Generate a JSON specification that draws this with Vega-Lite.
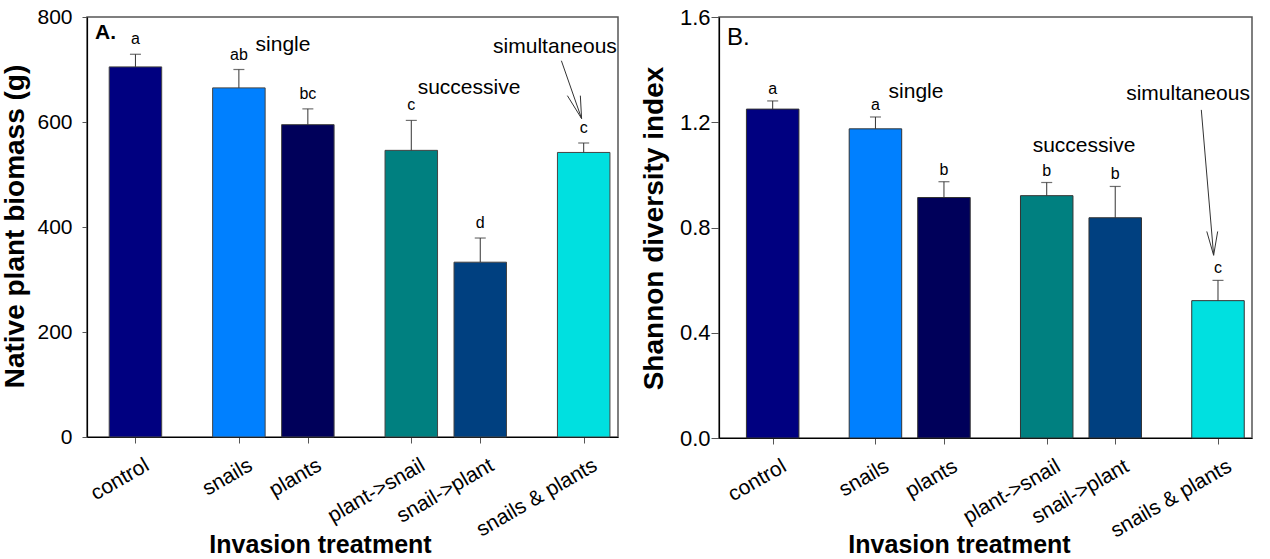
{
  "$schema": "https://vega.github.io/schema/vega-lite/v6.json",
  "background": "white",
  "padding": {"left": 0, "top": 5, "right": 0, "bottom": 0},
  "spacing": 101,
  "bounds": "flush",
  "config": {
    "font": "Liberation Sans",
    "view": {"stroke": "#555", "strokeWidth": 1.5},
    "axis": {"grid": false, "domainColor": "black", "domainWidth": 1.2, "tickColor": "#555", "labelColor": "black", "titleColor": "black", "labelFont": "Liberation Sans", "titleFont": "Liberation Sans", "labelOverlap": false}
  },
  "hconcat": [
    {
      "width": 531,
      "height": 420,
      "data": {"values": [
        {"treatment": "control", "mean": 705, "upper": 729, "letter": "a"},
        {"treatment": "snails", "mean": 665, "upper": 700, "letter": "ab"},
        {"treatment": "plants", "mean": 595, "upper": 625, "letter": "bc"},
        {"treatment": "plant->snail", "mean": 546, "upper": 603, "letter": "c"},
        {"treatment": "snail->plant", "mean": 333, "upper": 379, "letter": "d"},
        {"treatment": "snails & plants", "mean": 542, "upper": 560, "letter": "c"}
      ]},
      "resolve": {"scale": {"x": "independent"}},
      "layer": [
        {
          "encoding": {
            "x": {"field": "treatment", "type": "nominal",
              "scale": {"type": "point", "padding": 0.9, "align": 0.45, "domain": ["_m2","_m1","control","_1","_2","_3","_4","_5","snails","_7","_8","_9","plants","_11","_12","_13","_14","_15","plant->snail","_17","_18","_19","snail->plant","_21","_22","_23","_24","_25","snails & plants","_z"]},
              "axis": {"title": "Invasion treatment", "values": ["control","snails","plants","plant->snail","snail->plant","snails & plants"], "labelAngle": -30, "labelAlign": "right", "labelBaseline": "top", "labelFontSize": 21, "labelPadding": 11, "labelOffset": 6, "tickSize": 6, "titleFontSize": 25, "titleFontWeight": "bold", "titleX": 233, "titleY": 115, "titleBaseline": "alphabetic", "titleAlign": "center"}}
          },
          "layer": [
            {
              "mark": {"type": "bar", "size": 52.5, "stroke": "#444", "strokeWidth": 1},
              "encoding": {
                "y": {"field": "mean", "type": "quantitative", "scale": {"domain": [0, 800], "nice": false},
                  "axis": {"title": "Native plant biomass (g)", "values": [0, 200, 400, 600, 800], "labelFontSize": 21, "tickSize": 5, "labelPadding": 10, "titleFontSize": 28, "titleFontWeight": "bold", "titleX": -64, "titleY": 209, "titleBaseline": "alphabetic", "titleAlign": "center"}},
                "color": {"field": "treatment", "type": "nominal", "legend": null,
                  "scale": {"domain": ["control","snails","plants","plant->snail","snail->plant","snails & plants"], "range": ["#000080","#0080FF","#00005A","#008080","#004080","#00E0E0"]}}
              }
            },
            {
              "mark": {"type": "rule", "color": "#333", "strokeWidth": 1},
              "encoding": {"y": {"field": "mean", "type": "quantitative"}, "y2": {"field": "upper"}}
            },
            {
              "mark": {"type": "tick", "orient": "horizontal", "size": 11, "thickness": 1.2, "color": "#333"},
              "encoding": {"y": {"field": "upper", "type": "quantitative"}}
            },
            {
              "mark": {"type": "text", "dy": -10, "baseline": "alphabetic", "fontSize": 16, "fontWeight": "normal", "color": "black"},
              "encoding": {"y": {"field": "upper", "type": "quantitative"}, "text": {"field": "letter"}}
            }
          ]
        },
        {
          "data": {"values": [{"note": "annotations"}]},
          "layer": [
            {
              "mark": {"type": "text", "align": "left", "baseline": "alphabetic", "fontSize": 21, "fontWeight": "bold", "color": "black"},
              "encoding": {"x": {"datum": -0.586, "type": "quantitative", "scale": {"domain": [-0.7024, 6.998], "nice": false, "zero": false}, "axis": null}, "y": {"datum": 758.5, "type": "quantitative"}, "text": {"value": "A."}}
            },
            {
              "mark": {"type": "text", "align": "center", "baseline": "alphabetic", "fontSize": 21, "fontWeight": "normal", "color": "black"},
              "encoding": {"x": {"datum": 2.14, "type": "quantitative"}, "y": {"datum": 734.4, "type": "quantitative"}, "text": {"value": "single"}}
            },
            {
              "mark": {"type": "text", "align": "center", "baseline": "alphabetic", "fontSize": 21, "fontWeight": "normal", "color": "black"},
              "encoding": {"x": {"datum": 4.837, "type": "quantitative"}, "y": {"datum": 654, "type": "quantitative"}, "text": {"value": "successive"}}
            },
            {
              "mark": {"type": "text", "align": "center", "baseline": "alphabetic", "fontSize": 21, "fontWeight": "normal", "color": "black"},
              "encoding": {"x": {"datum": 6.084, "type": "quantitative"}, "y": {"datum": 731.4, "type": "quantitative"}, "text": {"value": "simultaneous"}}
            },
            {
              "mark": {"type": "rule", "color": "#333", "strokeWidth": 1},
              "encoding": {"x": {"datum": 6.177, "type": "quantitative"}, "x2": {"datum": 6.47}, "y": {"datum": 716.7, "type": "quantitative"}, "y2": {"datum": 606.5}}
            },
            {
              "mark": {"type": "rule", "color": "#333", "strokeWidth": 1},
              "encoding": {"x": {"datum": 6.264, "type": "quantitative"}, "x2": {"datum": 6.47}, "y": {"datum": 650.2, "type": "quantitative"}, "y2": {"datum": 606.5}}
            },
            {
              "mark": {"type": "rule", "color": "#333", "strokeWidth": 1},
              "encoding": {"x": {"datum": 6.452, "type": "quantitative"}, "x2": {"datum": 6.47}, "y": {"datum": 650.2, "type": "quantitative"}, "y2": {"datum": 606.5}}
            }
          ]
        }
      ]
    },
    {
      "width": 533,
      "height": 421,
      "data": {"values": [
        {"treatment": "control", "mean": 1.25, "upper": 1.281, "letter": "a"},
        {"treatment": "snails", "mean": 1.175, "upper": 1.22, "letter": "a"},
        {"treatment": "plants", "mean": 0.914, "upper": 0.974, "letter": "b"},
        {"treatment": "plant->snail", "mean": 0.921, "upper": 0.971, "letter": "b"},
        {"treatment": "snail->plant", "mean": 0.837, "upper": 0.956, "letter": "b"},
        {"treatment": "snails & plants", "mean": 0.522, "upper": 0.599, "letter": "c"}
      ]},
      "resolve": {"scale": {"x": "independent"}},
      "layer": [
        {
          "encoding": {
            "x": {"field": "treatment", "type": "nominal",
              "scale": {"type": "point", "padding": 0.56, "align": 0.12, "domain": ["_m3","_m2","_m1","control","_1","_2","_3","_4","_5","snails","_7","_8","_9","plants","_11","_12","_13","_14","_15","plant->snail","_17","_18","_19","snail->plant","_21","_22","_23","_24","_25","snails & plants","_z"]},
              "axis": {"title": "Invasion treatment", "values": ["control","snails","plants","plant->snail","snail->plant","snails & plants"], "labelAngle": -30, "labelAlign": "right", "labelBaseline": "top", "labelFontSize": 21, "labelPadding": 11, "labelOffset": 6, "tickSize": 6, "titleFontSize": 25, "titleFontWeight": "bold", "titleX": 240, "titleY": 114, "titleBaseline": "alphabetic", "titleAlign": "center"}}
          },
          "layer": [
            {
              "mark": {"type": "bar", "size": 52.5, "stroke": "#333", "strokeWidth": 1},
              "encoding": {
                "y": {"field": "mean", "type": "quantitative", "scale": {"domain": [0, 1.6], "nice": false},
                  "axis": {"title": "Shannon diversity index", "values": [0, 0.4, 0.8, 1.2, 1.6], "format": ".1f", "labelFontSize": 22, "tickSize": 8, "labelPadding": 1, "titleFontSize": 28, "titleFontWeight": "bold", "titleX": -57, "titleY": 211, "titleBaseline": "alphabetic", "titleAlign": "center"}},
                "color": {"field": "treatment", "type": "nominal", "legend": null,
                  "scale": {"domain": ["control","snails","plants","plant->snail","snail->plant","snails & plants"], "range": ["#000080","#0080FF","#00005A","#008080","#004080","#00E0E0"]}}
              }
            },
            {
              "mark": {"type": "rule", "color": "#333", "strokeWidth": 1},
              "encoding": {"y": {"field": "mean", "type": "quantitative"}, "y2": {"field": "upper"}}
            },
            {
              "mark": {"type": "tick", "orient": "horizontal", "size": 11, "thickness": 1.2, "color": "#333"},
              "encoding": {"y": {"field": "upper", "type": "quantitative"}}
            },
            {
              "mark": {"type": "text", "dy": -7, "baseline": "alphabetic", "fontSize": 16, "fontWeight": "normal", "color": "black"},
              "encoding": {"y": {"field": "upper", "type": "quantitative"}, "text": {"field": "letter"}}
            }
          ]
        },
        {
          "data": {"values": [{"note": "annotations"}]},
          "layer": [
            {
              "mark": {"type": "text", "align": "left", "baseline": "alphabetic", "fontSize": 24, "fontWeight": "normal", "color": "black"},
              "encoding": {"x": {"datum": -0.667, "type": "quantitative", "scale": {"domain": [-0.784, 6.996], "nice": false, "zero": false}, "axis": null}, "y": {"datum": 1.493, "type": "quantitative"}, "text": {"value": "B."}}
            },
            {
              "mark": {"type": "text", "align": "center", "baseline": "alphabetic", "fontSize": 21, "fontWeight": "normal", "color": "black"},
              "encoding": {"x": {"datum": 2.092, "type": "quantitative"}, "y": {"datum": 1.294, "type": "quantitative"}, "text": {"value": "single"}}
            },
            {
              "mark": {"type": "text", "align": "center", "baseline": "alphabetic", "fontSize": 21, "fontWeight": "normal", "color": "black"},
              "encoding": {"x": {"datum": 4.544, "type": "quantitative"}, "y": {"datum": 1.086, "type": "quantitative"}, "text": {"value": "successive"}}
            },
            {
              "mark": {"type": "text", "align": "center", "baseline": "alphabetic", "fontSize": 21, "fontWeight": "normal", "color": "black"},
              "encoding": {"x": {"datum": 6.062, "type": "quantitative"}, "y": {"datum": 1.285, "type": "quantitative"}, "text": {"value": "simultaneous"}}
            },
            {
              "mark": {"type": "rule", "color": "#333", "strokeWidth": 1},
              "encoding": {"x": {"datum": 6.256, "type": "quantitative"}, "x2": {"datum": 6.436}, "y": {"datum": 1.247, "type": "quantitative"}, "y2": {"datum": 0.6945}}
            },
            {
              "mark": {"type": "rule", "color": "#333", "strokeWidth": 1},
              "encoding": {"x": {"datum": 6.336, "type": "quantitative"}, "x2": {"datum": 6.436}, "y": {"datum": 0.785, "type": "quantitative"}, "y2": {"datum": 0.6945}}
            },
            {
              "mark": {"type": "rule", "color": "#333", "strokeWidth": 1},
              "encoding": {"x": {"datum": 6.495, "type": "quantitative"}, "x2": {"datum": 6.436}, "y": {"datum": 0.785, "type": "quantitative"}, "y2": {"datum": 0.6945}}
            }
          ]
        }
      ]
    }
  ]
}
